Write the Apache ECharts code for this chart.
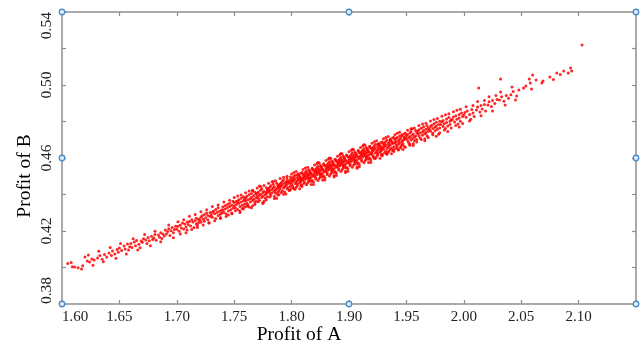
<!DOCTYPE html>
<html>
<head>
<meta charset="utf-8">
<script src="https://cdn.jsdelivr.net/npm/echarts@6/dist/echarts.min.js"></script>
<style>
html,body{margin:0;padding:0;background:#fff;}
#chart{width:644px;height:346px;}
</style>
</head>
<body>
<div id="chart"></div>
<script>
// ---- data (Profit of A, Profit of B) ----
const xTickLabels = ['1.60','1.65','1.70','1.75','1.80','1.90','1.95','2.00','2.05','2.10',''];
const yTickLabels = ['0.38','','0.42','','0.46','','0.50','','0.54'];
const xTitle = 'Profit of A';
const yTitle = 'Profit of B';

const lowerTail = [
[1.605,0.4022],[1.608,0.4027],[1.609,0.4004],
[1.611,0.4003],[1.614,0.3998],[1.617,0.3992],[1.618,0.4010],
[1.620,0.4058],[1.622,0.4036],[1.624,0.4030],[1.626,0.4047],[1.628,0.4041],
[1.631,0.4052],[1.633,0.4066],[1.635,0.4045],[1.637,0.4071],[1.639,0.4058],
[1.641,0.4079],[1.643,0.4066],[1.644,0.4091],[1.646,0.4074],[1.648,0.4098],[1.649,0.4083],
[1.650,0.4107],[1.652,0.4093],[1.654,0.4118],[1.655,0.4102],[1.657,0.4129],[1.658,0.4096],[1.659,0.4114],
[1.660,0.4131],[1.661,0.4110],[1.663,0.4140],[1.664,0.4119],[1.665,0.4148],[1.667,0.4127],[1.668,0.4108],[1.669,0.4145],
[1.670,0.4139],[1.671,0.4158],[1.673,0.4151],[1.674,0.4132],[1.675,0.4164],[1.676,0.4147],[1.678,0.4171],[1.679,0.4153],
[1.680,0.4162],[1.681,0.4181],[1.682,0.4150],[1.684,0.4178],[1.685,0.4166],[1.686,0.4190],[1.687,0.4159],[1.688,0.4184],[1.689,0.4173],
[1.690,0.4205],[1.691,0.4183],[1.692,0.4197],[1.693,0.4212],[1.694,0.4176],[1.695,0.4201],[1.696,0.4219],[1.697,0.4190],[1.698,0.4208],[1.699,0.4226],
[1.700,0.4209],[1.701,0.4226],[1.702,0.4198],[1.703,0.4233],[1.704,0.4217],[1.705,0.4244],[1.706,0.4211],[1.707,0.4238],[1.708,0.4222],[1.709,0.4205],[1.709,0.4249],
[1.710,0.4235],[1.711,0.4252],[1.712,0.4228],[1.713,0.4261],[1.714,0.4249],[1.715,0.4219],[1.716,0.4257],[1.717,0.4240],[1.717,0.4270],[1.718,0.4232],[1.719,0.4264],[1.719,0.4247],
[1.720,0.4259],[1.721,0.4276],[1.721,0.4248],[1.722,0.4283],[1.723,0.4265],[1.724,0.4291],[1.724,0.4254],[1.725,0.4272],[1.726,0.4298],[1.727,0.4261],[1.727,0.4285],[1.728,0.4244],[1.729,0.4279],[1.729,0.4302],
[1.730,0.4287],[1.731,0.4303],[1.731,0.4276],[1.732,0.4310],[1.733,0.4294],[1.734,0.4269],[1.734,0.4318],[1.735,0.4301],[1.736,0.4285],[1.736,0.4327],[1.737,0.4308],[1.738,0.4292],[1.738,0.4274],[1.739,0.4315],[1.739,0.4299],
[1.740,0.4314],[1.740,0.4331],[1.741,0.4302],[1.742,0.4338],[1.742,0.4320],[1.743,0.4293],[1.744,0.4345],[1.744,0.4327],[1.745,0.4309],[1.746,0.4352],[1.746,0.4334],[1.747,0.4316],[1.748,0.4299],[1.748,0.4341],[1.749,0.4363],[1.749,0.4325],[1.745,0.4287]
];

const centralBand = [
[1.750,0.4339],[1.750,0.4356],[1.751,0.4327],[1.752,0.4363],[1.752,0.4345],[1.753,0.4318],[1.754,0.4371],[1.754,0.4352],[1.755,0.4334],[1.756,0.4379],[1.756,0.4359],[1.757,0.4341],[1.757,0.4323],[1.758,0.4366],[1.758,0.4387],[1.759,0.4348],[1.759,0.4331],[1.753,0.4360],[1.755,0.4309],
[1.760,0.4366],[1.760,0.4381],[1.761,0.4352],[1.761,0.4390],[1.762,0.4371],[1.762,0.4343],[1.763,0.4398],[1.764,0.4377],[1.764,0.4359],[1.765,0.4406],[1.765,0.4385],[1.766,0.4367],[1.766,0.4338],[1.767,0.4393],[1.767,0.4374],[1.768,0.4355],[1.768,0.4412],[1.769,0.4381],[1.769,0.4363],[1.763,0.4332],[1.766,0.4421],
[1.770,0.4391],[1.770,0.4407],[1.771,0.4379],[1.771,0.4414],[1.772,0.4396],[1.772,0.4368],[1.773,0.4423],[1.773,0.4402],[1.774,0.4384],[1.774,0.4431],[1.775,0.4410],[1.775,0.4392],[1.776,0.4363],[1.776,0.4418],[1.777,0.4399],[1.777,0.4381],[1.778,0.4437],[1.778,0.4406],[1.779,0.4388],[1.779,0.4425],[1.772,0.4446],[1.775,0.4354],[1.778,0.4413],
[1.780,0.4417],[1.780,0.4433],[1.781,0.4405],[1.781,0.4440],[1.781,0.4422],[1.782,0.4394],[1.782,0.4448],[1.783,0.4428],[1.783,0.4410],[1.784,0.4456],[1.784,0.4436],[1.785,0.4418],[1.785,0.4389],[1.785,0.4443],[1.786,0.4425],[1.786,0.4407],[1.787,0.4462],[1.787,0.4431],[1.788,0.4413],[1.788,0.4450],[1.788,0.4437],[1.789,0.4398],[1.789,0.4442],[1.789,0.4420],[1.784,0.4471],[1.787,0.4380],
[1.790,0.4442],[1.790,0.4458],[1.790,0.4430],[1.791,0.4465],[1.791,0.4447],[1.792,0.4419],[1.792,0.4473],[1.792,0.4453],[1.793,0.4435],[1.793,0.4481],[1.794,0.4461],[1.794,0.4443],[1.794,0.4414],[1.795,0.4468],[1.795,0.4450],[1.796,0.4432],[1.796,0.4487],[1.796,0.4456],[1.797,0.4438],[1.797,0.4475],[1.798,0.4462],[1.798,0.4423],[1.798,0.4467],[1.799,0.4445],[1.799,0.4496],[1.799,0.4427],[1.793,0.4401],[1.796,0.4470],
[1.800,0.4468],[1.800,0.4483],[1.800,0.4456],[1.801,0.4490],[1.801,0.4472],[1.801,0.4445],[1.802,0.4498],[1.802,0.4478],[1.803,0.4460],[1.803,0.4506],[1.803,0.4486],[1.804,0.4468],[1.804,0.4440],[1.805,0.4493],[1.805,0.4475],[1.805,0.4457],[1.806,0.4512],[1.806,0.4481],[1.807,0.4463],[1.807,0.4500],[1.807,0.4487],[1.808,0.4449],[1.808,0.4492],[1.808,0.4470],[1.809,0.4520],[1.809,0.4453],[1.809,0.4484],[1.802,0.4431],[1.805,0.4508],[1.808,0.4476],
[1.810,0.4492],[1.810,0.4507],[1.810,0.4480],[1.811,0.4514],[1.811,0.4496],[1.811,0.4469],[1.812,0.4522],[1.812,0.4502],[1.812,0.4484],[1.813,0.4530],[1.813,0.4510],[1.813,0.4492],[1.814,0.4464],[1.814,0.4517],[1.814,0.4499],[1.815,0.4481],[1.815,0.4536],[1.815,0.4505],[1.816,0.4487],[1.816,0.4524],[1.816,0.4511],[1.817,0.4473],[1.817,0.4516],[1.817,0.4494],[1.818,0.4544],[1.818,0.4477],[1.818,0.4508],[1.819,0.4455],[1.819,0.4532],[1.819,0.4500],[1.815,0.4489],
[1.820,0.4516],[1.820,0.4531],[1.820,0.4504],[1.821,0.4538],[1.821,0.4520],[1.821,0.4493],[1.822,0.4546],[1.822,0.4526],[1.822,0.4508],[1.823,0.4554],[1.823,0.4534],[1.823,0.4516],[1.824,0.4488],[1.824,0.4541],[1.824,0.4523],[1.825,0.4505],[1.825,0.4560],[1.825,0.4529],[1.826,0.4511],[1.826,0.4548],[1.826,0.4535],[1.827,0.4497],[1.827,0.4540],[1.827,0.4518],[1.828,0.4568],[1.828,0.4501],[1.828,0.4532],[1.829,0.4479],[1.829,0.4556],[1.829,0.4524],[1.825,0.4513],[1.823,0.4575],
[1.830,0.4541],[1.830,0.4556],[1.830,0.4529],[1.831,0.4563],[1.831,0.4545],[1.831,0.4518],[1.832,0.4571],[1.832,0.4551],[1.832,0.4533],[1.833,0.4579],[1.833,0.4559],[1.833,0.4541],[1.834,0.4513],[1.834,0.4566],[1.834,0.4548],[1.835,0.4530],[1.835,0.4585],[1.835,0.4554],[1.836,0.4536],[1.836,0.4573],[1.836,0.4560],[1.837,0.4522],[1.837,0.4565],[1.837,0.4543],[1.838,0.4593],[1.838,0.4526],[1.838,0.4557],[1.839,0.4504],[1.839,0.4581],[1.839,0.4549],[1.835,0.4538],[1.833,0.4600],[1.837,0.4496],
[1.840,0.4565],[1.840,0.4580],[1.840,0.4553],[1.841,0.4587],[1.841,0.4569],[1.841,0.4542],[1.842,0.4595],[1.842,0.4575],[1.842,0.4557],[1.843,0.4603],[1.843,0.4583],[1.843,0.4565],[1.844,0.4537],[1.844,0.4590],[1.844,0.4572],[1.845,0.4554],[1.845,0.4609],[1.845,0.4578],[1.846,0.4560],[1.846,0.4597],[1.846,0.4584],[1.847,0.4546],[1.847,0.4589],[1.847,0.4567],[1.848,0.4617],[1.848,0.4550],[1.848,0.4581],[1.849,0.4528],[1.849,0.4605],[1.849,0.4573],[1.845,0.4562],[1.843,0.4624],[1.847,0.4520],
[1.850,0.4589],[1.850,0.4604],[1.850,0.4577],[1.851,0.4611],[1.851,0.4593],[1.851,0.4566],[1.852,0.4619],[1.852,0.4599],[1.852,0.4581],[1.853,0.4627],[1.853,0.4607],[1.853,0.4589],[1.854,0.4561],[1.854,0.4614],[1.854,0.4596],[1.855,0.4578],[1.855,0.4633],[1.855,0.4602],[1.856,0.4584],[1.856,0.4621],[1.856,0.4608],[1.857,0.4570],[1.857,0.4613],[1.857,0.4591],[1.858,0.4641],[1.858,0.4574],[1.858,0.4605],[1.859,0.4552],[1.859,0.4629],[1.859,0.4597],[1.855,0.4586],[1.853,0.4648],[1.857,0.4544],
[1.860,0.4613],[1.860,0.4628],[1.860,0.4601],[1.861,0.4635],[1.861,0.4617],[1.861,0.4590],[1.862,0.4643],[1.862,0.4623],[1.862,0.4605],[1.863,0.4651],[1.863,0.4631],[1.863,0.4613],[1.864,0.4585],[1.864,0.4638],[1.864,0.4620],[1.865,0.4602],[1.865,0.4657],[1.865,0.4626],[1.866,0.4608],[1.866,0.4645],[1.866,0.4632],[1.867,0.4594],[1.867,0.4637],[1.867,0.4615],[1.868,0.4665],[1.868,0.4598],[1.868,0.4629],[1.869,0.4576],[1.869,0.4653],[1.869,0.4621],[1.865,0.4610],[1.863,0.4672],
[1.870,0.4636],[1.870,0.4651],[1.870,0.4624],[1.871,0.4658],[1.871,0.4640],[1.871,0.4613],[1.872,0.4666],[1.872,0.4646],[1.873,0.4628],[1.873,0.4674],[1.873,0.4654],[1.874,0.4636],[1.874,0.4608],[1.875,0.4661],[1.875,0.4643],[1.875,0.4625],[1.876,0.4680],[1.876,0.4649],[1.877,0.4631],[1.877,0.4668],[1.877,0.4655],[1.878,0.4617],[1.878,0.4660],[1.878,0.4638],[1.879,0.4688],[1.879,0.4621],[1.879,0.4652],[1.872,0.4599],[1.875,0.4676],[1.878,0.4644],
[1.880,0.4660],[1.880,0.4675],[1.880,0.4648],[1.881,0.4682],[1.881,0.4664],[1.882,0.4637],[1.882,0.4690],[1.882,0.4670],[1.883,0.4652],[1.883,0.4698],[1.884,0.4678],[1.884,0.4660],[1.884,0.4632],[1.885,0.4685],[1.885,0.4667],[1.886,0.4649],[1.886,0.4704],[1.886,0.4673],[1.887,0.4655],[1.887,0.4692],[1.888,0.4679],[1.888,0.4641],[1.888,0.4684],[1.889,0.4662],[1.889,0.4712],[1.889,0.4645],[1.883,0.4623],[1.886,0.4697],
[1.890,0.4683],[1.890,0.4698],[1.891,0.4671],[1.891,0.4705],[1.891,0.4687],[1.892,0.4660],[1.892,0.4713],[1.893,0.4693],[1.893,0.4675],[1.894,0.4721],[1.894,0.4701],[1.894,0.4683],[1.895,0.4655],[1.895,0.4708],[1.896,0.4690],[1.896,0.4672],[1.896,0.4727],[1.897,0.4696],[1.897,0.4678],[1.898,0.4715],[1.898,0.4702],[1.898,0.4664],[1.899,0.4707],[1.899,0.4735],[1.893,0.4646],
[1.900,0.4707],[1.900,0.4722],[1.901,0.4695],[1.901,0.4729],[1.902,0.4711],[1.902,0.4684],[1.903,0.4737],[1.903,0.4717],[1.904,0.4699],[1.904,0.4745],[1.905,0.4725],[1.905,0.4707],[1.906,0.4679],[1.906,0.4732],[1.907,0.4714],[1.907,0.4696],[1.908,0.4751],[1.908,0.4720],[1.909,0.4702],[1.909,0.4739],[1.905,0.4760],[1.903,0.4670],
[1.910,0.4733],[1.910,0.4748],[1.911,0.4721],[1.911,0.4755],[1.912,0.4737],[1.912,0.4710],[1.913,0.4763],[1.914,0.4743],[1.914,0.4725],[1.915,0.4771],[1.915,0.4751],[1.916,0.4733],[1.916,0.4705],[1.917,0.4758],[1.917,0.4740],[1.918,0.4722],[1.918,0.4777],[1.919,0.4746],[1.919,0.4764]
];

const upperTail = [
[1.920,0.4758],[1.921,0.4773],[1.921,0.4746],[1.922,0.4780],[1.923,0.4762],[1.923,0.4735],[1.924,0.4788],[1.925,0.4768],[1.925,0.4750],[1.926,0.4796],[1.926,0.4776],[1.927,0.4758],[1.928,0.4730],[1.928,0.4783],[1.929,0.4765],[1.929,0.4802],
[1.930,0.4784],[1.931,0.4799],[1.932,0.4772],[1.932,0.4806],[1.933,0.4788],[1.934,0.4761],[1.935,0.4814],[1.935,0.4794],[1.936,0.4776],[1.937,0.4822],[1.938,0.4802],[1.938,0.4784],[1.939,0.4809],
[1.940,0.4809],[1.941,0.4824],[1.942,0.4797],[1.943,0.4831],[1.944,0.4813],[1.945,0.4786],[1.946,0.4839],[1.946,0.4819],[1.947,0.4801],[1.948,0.4847],[1.949,0.4827],
[1.950,0.4835],[1.951,0.4850],[1.952,0.4823],[1.953,0.4857],[1.955,0.4839],[1.956,0.4812],[1.957,0.4866],[1.958,0.4846],[1.959,0.4828],
[1.961,0.4863],[1.962,0.4880],[1.964,0.4852],[1.965,0.4887],[1.966,0.4869],[1.968,0.4893],[1.969,0.4858],[1.963,0.4984],
[1.971,0.4890],[1.972,0.4908],[1.974,0.4882],[1.975,0.4915],[1.977,0.4899],[1.979,0.4921],
[1.981,0.4918],[1.983,0.4936],[1.985,0.4911],[1.987,0.4943],[1.989,0.4928],[1.982,0.5033],
[1.991,0.4947],[1.993,0.4965],[1.996,0.4940],[1.998,0.4972],
[2.002,0.4984],[2.004,0.4995],[2.008,0.5011],[2.007,0.5033],[2.009,0.4978],
[2.010,0.5055],[2.013,0.5027],[2.018,0.5011],[2.019,0.5022],
[2.025,0.5044],[2.028,0.5030],
[2.031,0.5066],[2.037,0.5077],[2.034,0.5058],
[2.041,0.5066],[2.043,0.5093],[2.044,0.5077],
[2.053,0.5219]
];

// outer edge of the band (points lying away from its middle)
const bandFringe = [
[1.623,0.4068],[1.627,0.4012],[1.632,0.4089],[1.636,0.4031],[1.642,0.4110],[1.647,0.4051],
[1.651,0.4131],[1.656,0.4074],[1.662,0.4157],[1.666,0.4096],[1.672,0.4181],[1.677,0.4119],
[1.681,0.4199],[1.686,0.4141],[1.693,0.4233],[1.697,0.4163],
[1.701,0.4251],[1.703,0.4183],[1.706,0.4262],[1.708,0.4190],
[1.711,0.4281],[1.713,0.4208],[1.716,0.4290],[1.718,0.4219],
[1.721,0.4306],[1.723,0.4233],[1.726,0.4317],[1.728,0.4245],
[1.731,0.4334],[1.733,0.4256],[1.736,0.4343],[1.738,0.4268],
[1.741,0.4359],[1.743,0.4280],[1.746,0.4369],[1.748,0.4295],
[1.750,0.4384],[1.751,0.4311],[1.753,0.4392],[1.755,0.4302],[1.756,0.4397],[1.758,0.4320],[1.759,0.4376],
[1.760,0.4410],[1.761,0.4335],[1.763,0.4419],[1.765,0.4328],[1.766,0.4423],[1.768,0.4345],[1.769,0.4403],
[1.770,0.4436],[1.771,0.4360],[1.773,0.4444],[1.775,0.4352],[1.776,0.4449],[1.778,0.4371],[1.779,0.4428],
[1.780,0.4462],[1.781,0.4386],[1.783,0.4470],[1.785,0.4378],[1.786,0.4475],[1.788,0.4397],[1.789,0.4454],
[1.790,0.4487],[1.791,0.4411],[1.793,0.4495],[1.795,0.4403],[1.796,0.4500],[1.798,0.4422],[1.799,0.4479],
[1.800,0.4513],[1.801,0.4437],[1.802,0.4521],[1.803,0.4429],[1.804,0.4526],[1.805,0.4448],[1.806,0.4505],[1.807,0.4431],[1.808,0.4517],[1.809,0.4444],
[1.810,0.4537],[1.811,0.4461],[1.812,0.4545],[1.813,0.4453],[1.814,0.4550],[1.815,0.4472],[1.816,0.4529],[1.817,0.4455],[1.818,0.4541],[1.819,0.4468],
[1.820,0.4561],[1.821,0.4485],[1.822,0.4569],[1.823,0.4477],[1.824,0.4574],[1.825,0.4496],[1.826,0.4553],[1.827,0.4479],[1.828,0.4565],[1.829,0.4492],
[1.830,0.4586],[1.831,0.4510],[1.832,0.4594],[1.833,0.4502],[1.834,0.4599],[1.835,0.4521],[1.836,0.4578],[1.837,0.4504],[1.838,0.4590],[1.839,0.4517],
[1.840,0.4610],[1.841,0.4534],[1.842,0.4618],[1.843,0.4526],[1.844,0.4623],[1.845,0.4545],[1.846,0.4602],[1.847,0.4528],[1.848,0.4614],[1.849,0.4541],
[1.850,0.4634],[1.851,0.4558],[1.852,0.4642],[1.853,0.4550],[1.854,0.4647],[1.855,0.4569],[1.856,0.4626],[1.857,0.4552],[1.858,0.4638],[1.859,0.4565],
[1.860,0.4658],[1.861,0.4582],[1.862,0.4666],[1.863,0.4574],[1.864,0.4671],[1.865,0.4593],[1.866,0.4650],[1.867,0.4576],[1.868,0.4662],[1.869,0.4589],
[1.870,0.4681],[1.871,0.4605],[1.872,0.4689],[1.873,0.4597],[1.874,0.4694],[1.875,0.4616],[1.876,0.4673],[1.877,0.4599],[1.878,0.4685],[1.879,0.4612],
[1.880,0.4705],[1.881,0.4629],[1.882,0.4713],[1.883,0.4621],[1.884,0.4718],[1.885,0.4640],[1.886,0.4697],[1.887,0.4623],[1.888,0.4709],[1.889,0.4636],
[1.890,0.4728],[1.891,0.4652],[1.892,0.4736],[1.893,0.4644],[1.894,0.4741],[1.895,0.4663],[1.896,0.4720],[1.897,0.4646],[1.898,0.4732],[1.899,0.4659],
[1.901,0.4752],[1.903,0.4676],[1.904,0.4760],[1.906,0.4668],[1.907,0.4765],[1.909,0.4687],
[1.911,0.4778],[1.913,0.4702],[1.914,0.4786],[1.916,0.4694],[1.917,0.4791],[1.919,0.4713],
[1.921,0.4803],[1.923,0.4727],[1.924,0.4811],[1.926,0.4719],[1.927,0.4816],[1.929,0.4738],
[1.931,0.4829],[1.933,0.4753],[1.934,0.4837],[1.936,0.4745],[1.937,0.4842],[1.939,0.4764],
[1.941,0.4854],[1.943,0.4778],[1.944,0.4862],[1.946,0.4770],[1.947,0.4867],[1.949,0.4789],
[1.952,0.4881],[1.955,0.4803],[1.958,0.4888],
[1.962,0.4909],[1.965,0.4831],[1.968,0.4915],
[1.972,0.4936],[1.975,0.4858],[1.978,0.4942],
[1.982,0.4962],[1.986,0.4890],[1.992,0.4989],[1.995,0.4918]
];

// frame handle positions (corners and mid-points of the plot box)
const handleX = [1.60, 1.85, 2.10];
const handleY = [0.38, 0.46, 0.54];

// ---- build ----
const scatterData = lowerTail.concat(centralBand, upperTail, bandFringe);
const handles = [];
handleX.forEach((hx, i) => handleY.forEach((hy, j) => {
  if (!(i === 1 && j === 1)) handles.push([hx, hy]);
}));

const frameColor = '#8e8e8e';
const serif = '"Liberation Serif", "Times New Roman", "DejaVu Serif", serif';

function xLabel(v) {
  const i = Math.round((v - 1.60) / 0.05);
  return xTickLabels[i] !== undefined ? xTickLabels[i] : '';
}
function yLabel(v) {
  const i = Math.round((v - 0.38) / 0.02);
  return yTickLabels[i] !== undefined ? yTickLabels[i] : '';
}

const axisCommon = {
  type: 'value',
  axisLine: { show: true, onZero: false, lineStyle: { color: frameColor, width: 1.5 } },
  axisTick: { show: true, inside: true, length: 4, lineStyle: { color: frameColor, width: 1.2 } },
  splitLine: { show: false }
};

const chart = echarts.init(document.getElementById('chart'), null, { renderer: 'canvas' });
chart.setOption({
  backgroundColor: '#ffffff',
  animation: false,
  grid: { left: 62, right: 8, top: 12, bottom: 42, containLabel: false },
  xAxis: [
    Object.assign({}, axisCommon, {
      position: 'bottom', min: 1.60, max: 2.10, interval: 0.05,
      axisLabel: { show: true, formatter: xLabel, margin: 6, color: '#222', fontFamily: serif, fontSize: 15, alignMinLabel: 'left' }
    }),
    Object.assign({}, axisCommon, {
      position: 'top', min: 1.60, max: 2.10, interval: 0.05,
      axisLabel: { show: false }
    })
  ],
  yAxis: [
    Object.assign({}, axisCommon, {
      position: 'left', min: 0.38, max: 0.54, interval: 0.02,
      axisLabel: { show: true, formatter: yLabel, rotate: 90, margin: 7, color: '#222', fontFamily: serif, fontSize: 15.5, alignMinLabel: 'left', alignMaxLabel: 'right' }
    }),
    Object.assign({}, axisCommon, {
      position: 'right', min: 0.38, max: 0.54, interval: 0.02,
      axisLabel: { show: false }
    })
  ],
  graphic: [
    { type: 'text', x: 299, y: 335, style: { text: xTitle, font: '19.5px ' + serif, fill: '#000', align: 'center', verticalAlign: 'middle' } },
    { type: 'text', x: 25, y: 176, rotation: Math.PI / 2, style: { text: yTitle, font: '19.5px ' + serif, fill: '#000', align: 'center', verticalAlign: 'middle' } }
  ],
  series: [
    {
      type: 'scatter', xAxisIndex: 0, yAxisIndex: 0,
      data: scatterData, symbol: 'circle', symbolSize: 3,
      itemStyle: { color: '#ff0000', opacity: 0.85 },
      large: false, silent: true
    },
    {
      type: 'scatter', xAxisIndex: 0, yAxisIndex: 0,
      data: handles, symbol: 'circle', symbolSize: 5.5, clip: false, z: 5,
      itemStyle: { color: '#e4eef8', borderColor: '#4d8cc8', borderWidth: 1.3, opacity: 1 },
      silent: true
    }
  ]
});
</script>
</body>
</html>
